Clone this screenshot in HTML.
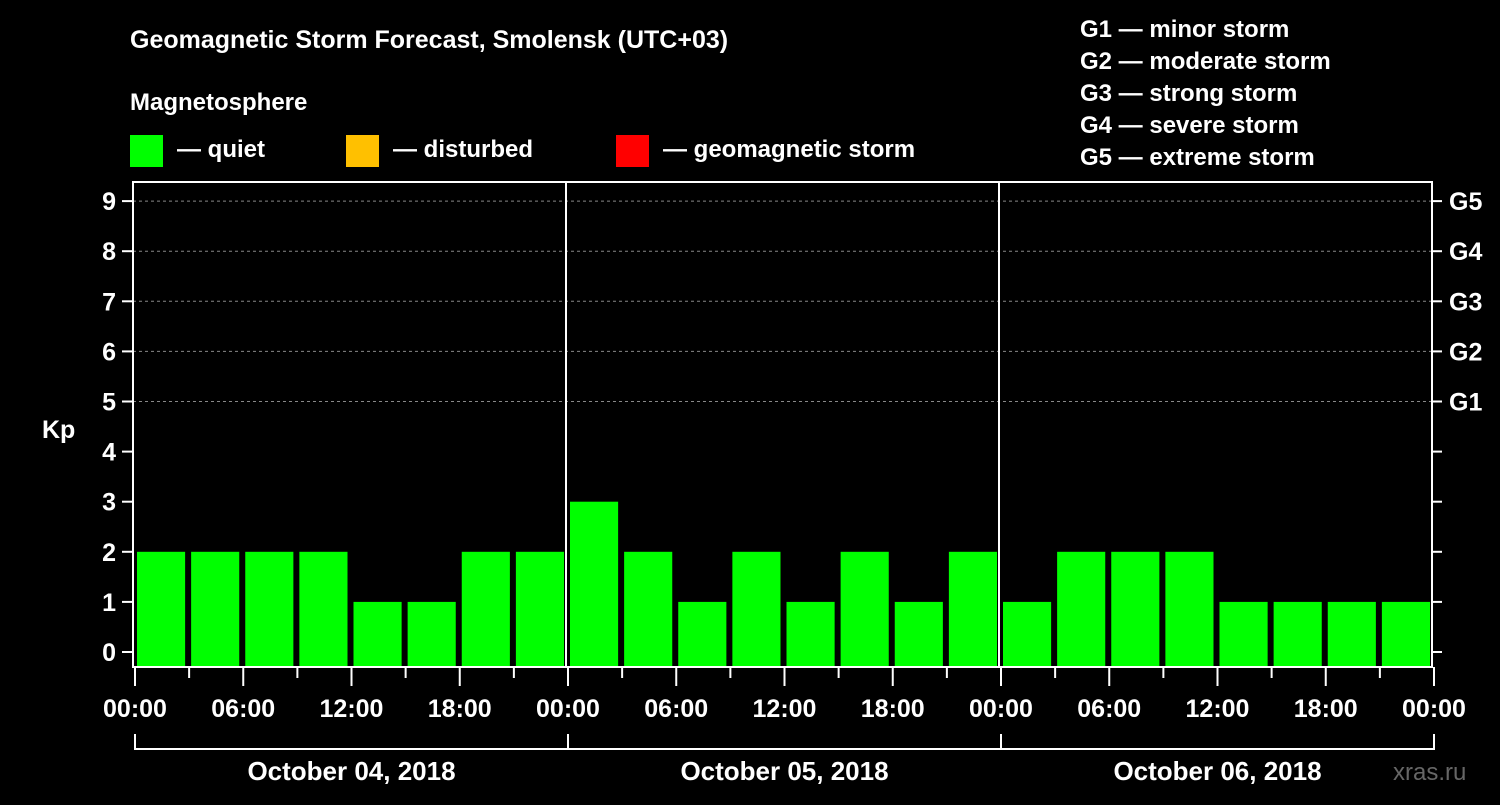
<!DOCTYPE html>
<html><head><meta charset="utf-8"><style>
body{margin:0;background:#000;width:1500px;height:800px;overflow:hidden;font-family:"Liberation Sans",sans-serif}
svg text{font-family:"Liberation Sans",sans-serif;font-weight:bold;fill:#fff}
</style></head><body>
<svg width="1500" height="800">
<text x="130" y="48" font-size="25">Geomagnetic Storm Forecast, Smolensk (UTC+03)</text>
<text x="130" y="110" font-size="24">Magnetosphere</text>
<g><rect x="130" y="135" width="33" height="32" fill="#00ff00"/><text x="177" y="157" font-size="24">— quiet</text></g>
<g><rect x="346" y="135" width="33" height="32" fill="#ffc000"/><text x="393" y="157" font-size="24">— disturbed</text></g>
<g><rect x="616" y="135" width="33" height="32" fill="#ff0000"/><text x="663" y="157" font-size="24">— geomagnetic storm</text></g>
<g font-size="24">
<text x="1080" y="37">G1 — minor storm</text><text x="1080" y="69">G2 — moderate storm</text><text x="1080" y="101">G3 — strong storm</text><text x="1080" y="133">G4 — severe storm</text><text x="1080" y="165">G5 — extreme storm</text></g>
<text x="42" y="438" font-size="25">Kp</text>
<text x="1393" y="780" font-size="24" fill="#555" style="fill:#666;font-weight:normal">xras.ru</text>
<g id="plot"></g>
</svg>
<script>
const days=["October 04, 2018","October 05, 2018","October 06, 2018"];
const kp=[2,2,2,2,1,1,2,2, 3,2,1,2,1,2,1,2, 1,2,2,2,1,1,1,1];
const yTicks=[0,1,2,3,4,5,6,7,8,9];
const gLabels=["G1","G2","G3","G4","G5"];
const gLevels=[5,6,7,8,9];
const hourLabels=["00:00","06:00","12:00","18:00"];
const X0=133,X1=1432,TOP=182,BOT=667;
const nBins=kp.length;
const slot=(X1-X0)/nBins;
const y=v=>652-v*50.1;
const x=i=>X0+i*slot;
const NS="http://www.w3.org/2000/svg";
const g=document.getElementById('plot');
function mk(t,a,p){const e=document.createElementNS(NS,t);for(const k in a)e.setAttribute(k,a[k]);(p||g).appendChild(e);return e;}
yTicks.forEach(v=>{if(v>=5){const l=mk('line',{x1:X0,x2:X1,y1:y(v),y2:y(v),stroke:'#888','stroke-dasharray':'3,3'});}});
kp.forEach((v,i)=>{const r=mk('rect',{x:x(i)+4,y:y(v),width:slot-6,height:BOT-y(v),fill:v>=5?'#ff0000':(v>=4?'#ffc000':'#00ff00')});

});
const fr=mk('rect',{x:X0,y:TOP,width:X1-X0,height:BOT-TOP,fill:'none',stroke:'#fff','stroke-width':2});


yTicks.forEach(v=>{mk('line',{x1:X0-11,x2:X0,y1:y(v),y2:y(v),stroke:'#fff','stroke-width':2});mk('line',{x1:X1,x2:X1+10,y1:y(v),y2:y(v),stroke:'#fff','stroke-width':2});
const t=mk('text',{x:X0-17,y:y(v)+9,'font-size':25,'text-anchor':'end'});t.textContent=v;

});
gLevels.forEach((v,i)=>{const t=mk('text',{x:1449,y:y(v)+9,'font-size':25});t.textContent=gLabels[i];

});
const nd=days.length,perDay=nBins/nd;
for(let d=1;d<nd;d++){mk('line',{x1:x(d*perDay),x2:x(d*perDay),y1:TOP,y2:BOT,stroke:'#fff','stroke-width':2});}
for(let i=0;i<=nBins;i++){const major=i%2===0;mk('line',{x1:x(i)+2,x2:x(i)+2,y1:BOT,y2:major?686:678,stroke:'#fff','stroke-width':2});
if(major){const t=mk('text',{x:x(i)+2,y:717,'font-size':25,'text-anchor':'middle'});t.textContent=hourLabels[(i/2)%4];

}}
days.forEach((d,k)=>{const a=x(k*perDay)+2,b=x((k+1)*perDay)+2;
mk('path',{d:`M${a},734V749H${b}V734`,fill:'none',stroke:'#fff','stroke-width':2});
const t=mk('text',{x:(a+b)/2,y:780,'font-size':26,'text-anchor':'middle'});t.textContent=d;

});
</script>
</body></html>
